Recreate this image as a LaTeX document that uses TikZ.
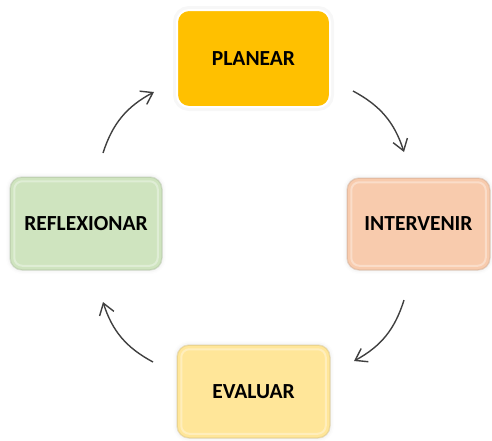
\documentclass[tikz,border=0pt]{standalone}
\usepackage{fontspec}
\setmainfont{Carlito}
\usetikzlibrary{arrows.meta}
\definecolor{plan}{HTML}{FFC000}
\definecolor{inter}{HTML}{F8CBAD}
\definecolor{refl}{HTML}{CFE4BF}
\definecolor{eval}{HTML}{FFE699}
\definecolor{arr}{HTML}{404040}
\tikzset{
  box/.style={rounded corners=12pt, inner sep=0pt, align=center,
    font=\fontsize{21.5}{25}\selectfont\bfseries,
    preaction={draw=black!7, line width=5pt},
    preaction={draw=black!3, line width=8pt}},
  bevel/.style={box, fill=#1, draw=#1!75!black, draw opacity=0.3, line width=1.5pt},
  rim/.style={draw=white, draw opacity=0.35, line width=2pt, rounded corners=8pt},
  cyc/.style={draw=arr, line width=1.4pt, -{Straight Barb[length=11pt,width=15pt,line width=1.4pt]}, bend left=22}
}
\begin{document}
\begin{tikzpicture}[x=1pt,y=-1pt]
\useasboundingbox (0,0) rectangle (492,440);
\node[box, fill=plan, draw=white, line width=2pt, minimum width=153pt, minimum height=97pt] (plan) at (253.5,58.5) {PLANEAR};
\node[bevel=inter, minimum width=143pt, minimum height=92pt] (inter) at (418.5,224) {INTERVENIR};
\node[bevel=eval, minimum width=153pt, minimum height=93pt] (eval) at (253.5,391.5) {EVALUAR};
\node[bevel=refl, minimum width=152pt, minimum height=93pt] (refl) at (86,223.5) {REFLEXIONAR};
\draw[rim] ([shift={(5pt,-5pt)}]inter.north west) rectangle ([shift={(-5pt,5pt)}]inter.south east);
\draw[rim] ([shift={(5pt,-5pt)}]eval.north west) rectangle ([shift={(-5pt,5pt)}]eval.south east);
\draw[rim] ([shift={(5pt,-5pt)}]refl.north west) rectangle ([shift={(-5pt,5pt)}]refl.south east);
\coordinate (a1s) at (103,153); \coordinate (a1e) at (154,92);
\coordinate (a2s) at (353,91);  \coordinate (a2e) at (404,152);
\coordinate (a3s) at (404,300); \coordinate (a3e) at (354,361);
\coordinate (a4s) at (153,362); \coordinate (a4e) at (103,302);
\draw[cyc] (a1s) to (a1e);
\draw[cyc] (a2s) to (a2e);
\draw[cyc] (a3s) to (a3e);
\draw[cyc] (a4s) to (a4e);
\end{tikzpicture}
\end{document}
